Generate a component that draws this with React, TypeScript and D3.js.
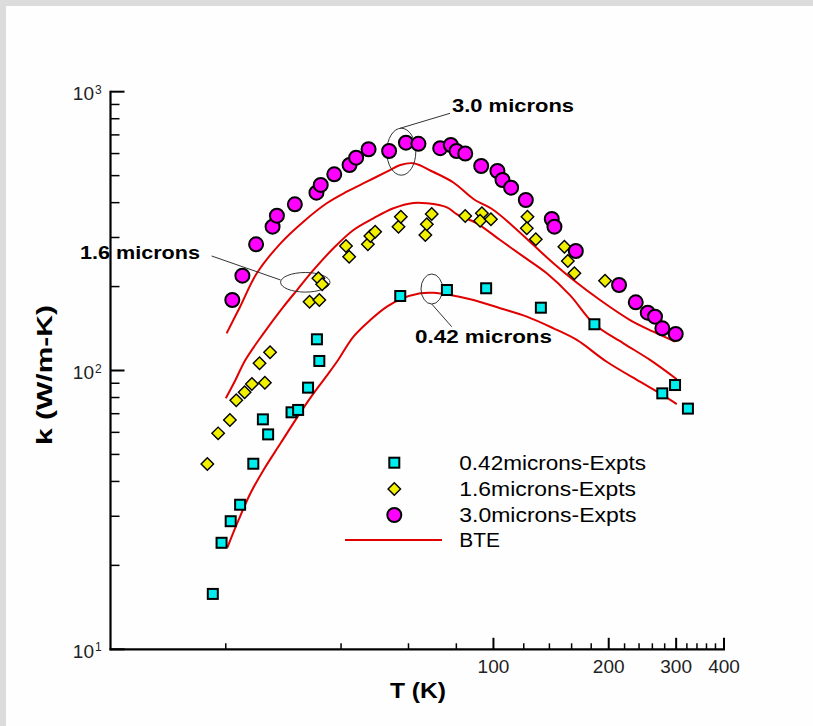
import React from 'react';
import * as d3 from 'd3';

// experimental points, T in K, k in W/m-K
const exp042T = [18.5, 19.5, 20.6, 21.8, 23.6, 25.0, 25.8, 29.7, 30.9, 32.8, 34.6, 35.1, 57.1, 75.6, 95.7, 133, 183.5, 276, 298, 322];
const exp042K = [15.8, 24.1, 28.8, 33.0, 46.3, 66.8, 59.0, 70.8, 72.2, 86.8, 129.4, 108.2, 185, 194.4, 197.2, 168, 146.5, 82.8, 88.7, 73.0];

const exp16T = [17.9, 19.1, 20.5, 21.3, 22.4, 23.4, 25.3, 24.5, 26.1, 33.1, 35.1, 34.9, 35.7, 41.2, 42.0, 47.0, 47.7, 49.1, 56.5, 57.3, 66.4, 67.0, 69.0, 84.4, 93.3, 92.3, 98.5, 122.7, 122.2, 129.0, 153.2, 156.4, 162.7, 195.6];
const exp16K = [46.2, 59.5, 66.5, 78.2, 83.5, 89.5, 90.4, 106.1, 116.2, 176.5, 179.0, 214.1, 203.8, 279.7, 256.0, 283.6, 303.7, 314.7, 328.0, 356.1, 306.2, 334.5, 364.1, 358.2, 366.3, 344.6, 348.5, 356.1, 323.6, 295.5, 278.0, 247.1, 223.2, 209.9];

const exp30T = [20.8, 22.1, 24.0, 26.5, 27.2, 30.3, 34.5, 35.4, 38.4, 42.1, 43.8, 47.2, 53.4, 59.1, 63.7, 72.6, 77.4, 80.1, 84.4, 92.9, 102.4, 105.6, 111.2, 121.5, 142.0, 144.3, 164.1, 212.8, 235.3, 252.9, 264.2, 276.1, 299.2];
const exp30K = [179, 218.8, 283.6, 328, 359.1, 394.6, 434.2, 462.9, 505.5, 545.9, 579.9, 621.6, 612.9, 656.3, 650.3, 627.2, 643.9, 612.9, 600.3, 541.4, 519.5, 482.3, 452.6, 408.9, 349.4, 328.0, 268.3, 202.6, 175.6, 161.2, 156.0, 141.7, 135.2];

// BTE model curves
const bte042T = [20.2, 21.6, 23.2, 25.1, 27.8, 31.0, 33.9, 37.1, 39.3, 43.1, 47.7, 52.7, 57.1, 64.4, 69.7, 77.1, 88.7, 104.1, 122.2, 143.4, 165.1, 197.6, 241.4, 272.3, 301.1];
const bte042K = [23.2, 29.1, 36.3, 44.0, 54.8, 69.2, 82.8, 97.7, 109.1, 132.2, 151.7, 169.4, 180.0, 189.2, 190.1, 186.6, 179.0, 167.2, 156.0, 141.7, 128.7, 107.5, 91.2, 82.8, 75.8];

const bte16T = [20.0, 21.2, 22.5, 25.1, 28.3, 30.7, 33.9, 38.2, 43.1, 48.6, 54.8, 61.8, 67.0, 75.6, 80.3, 90.5, 104.1, 119.8, 137.8, 158.6, 183.5, 218.4, 256.4, 301.1];
const bte16K = [79.5, 92.5, 109.1, 135.9, 169.4, 194.4, 229.4, 274.4, 319.1, 351.5, 381.8, 398.9, 397.9, 384.9, 363.3, 337.3, 293.8, 256.0, 223.2, 186.0, 146.5, 125.2, 109.1, 93.0];

const bte30T = [20.1, 21.8, 24.1, 27.8, 31.9, 36.7, 41.4, 46.7, 52.7, 57.1, 61.8, 69.7, 78.6, 88.7, 100, 112.8, 127.2, 143.4, 161.7, 189.8, 227.4, 261.5, 298.1];
const bte30K = [135.9, 169.4, 223.2, 285.9, 341.8, 397.9, 437.8, 475.6, 516.5, 545.9, 553.6, 515.2, 472.4, 412.2, 376.5, 328.0, 281.8, 242.4, 211.1, 179.0, 151.7, 137.8, 126.9];

// ticks
const xMajor = [100, 200, 300, 400];
const xLabels = ['100', '200', '300', '400'];
const xMinor = [20, 40, 60, 80, 120, 140, 160, 180, 220, 240, 260, 280, 320, 340, 360, 380];
const yMajor = [10, 100, 1000];
const yExp = ['1', '2', '3'];
const yMinor = [10, 100].flatMap((d) => [2, 3, 4, 5, 6, 7, 8, 9].map((m) => m * d));

const legendLabels = ['0.42microns-Expts', '1.6microns-Expts', '3.0microns-Expts', 'BTE'];

const FONT = '"Liberation Sans", Arial, sans-serif';
const RED = '#e00000';

export default function App() {
  const x = d3.scaleLog().domain([10, 400]).range([110.5, 724]);
  const y = d3.scaleLog().domain([10, 1000]).range([649.3, 91.7]);

  const line = d3
    .line<[number, number]>()
    .x((d) => x(d[0]))
    .y((d) => y(d[1]))
    .curve(d3.curveCatmullRom.alpha(0.5));

  const zip = (a: number[], b: number[]) => a.map((v, i) => [v, b[i]] as [number, number]);
  const diamond = d3.symbol(d3.symbolSquare, 78)();

  const square = (cx: number, cy: number, k: string) => (
    <rect key={k} x={cx - 5} y={cy - 5} width={10} height={10} fill="#00eeee" stroke="#000" strokeWidth={2} />
  );
  const dia = (cx: number, cy: number, k: string) => (
    <path key={k} d={diamond} transform={`translate(${cx},${cy}) rotate(45)`} fill="#f0f000" stroke="#000" strokeWidth={1.4} />
  );
  const circ = (cx: number, cy: number, k: string) => (
    <circle key={k} cx={cx} cy={cy} r={7} fill="#ff00ff" stroke="#000" strokeWidth={2} />
  );

  const x0 = x.range()[0];
  const y0 = y.range()[0];

  return (
    <svg width={813} height={726} style={{ position: 'absolute', left: 0, top: 0 }} fontFamily={FONT}>
      <rect width={813} height={726} fill="#dcdcdc" />
      <rect x={6} y={6} width={807} height={720} fill="#fefefe" />

      {/* BTE curves */}
      {[zip(bte042T, bte042K), zip(bte16T, bte16K), zip(bte30T, bte30K)].map((d, i) => (
        <path key={i} d={line(d) || ''} fill="none" stroke={RED} strokeWidth={2} />
      ))}

      {/* annotations */}
      <g fill="none" stroke="#333" strokeWidth={1}>
        <ellipse cx={401.3} cy={151.7} rx={14.5} ry={23.5} />
        <line x1={450} y1={113.3} x2={400} y2={128.3} />
        <ellipse cx={305.3} cy={282.3} rx={24.7} ry={9.8} />
        <line x1={211.7} y1={256} x2={280.6} y2={280} />
        <ellipse cx={431.8} cy={289} rx={10.8} ry={15} />
        <line x1={451.7} y1={326.7} x2={431.7} y2={304} />
      </g>
      <g fontSize={19} fontWeight="bold" fill="#000">
        <text x={452} y={111.7} textLength={122} lengthAdjust="spacingAndGlyphs">3.0 microns</text>
        <text x={80} y={259.3} textLength={120} lengthAdjust="spacingAndGlyphs">1.6 microns</text>
        <text x={415} y={342.7} textLength={137} lengthAdjust="spacingAndGlyphs">0.42 microns</text>
      </g>

      {/* experimental markers */}
      {exp042T.map((t, i) => square(x(t), y(exp042K[i]), 'a' + i))}
      {exp16T.map((t, i) => dia(x(t), y(exp16K[i]), 'b' + i))}
      {exp30T.map((t, i) => circ(x(t), y(exp30K[i]), 'c' + i))}

      {/* axes */}
      <g stroke="#000">
        <line x1={x0} y1={y(1000) - 1} x2={x0} y2={y0 + 1} strokeWidth={2.2} />
        <line x1={x0 - 1} y1={y0} x2={x(400) + 1} y2={y0} strokeWidth={2.2} />
        {xMajor.map((t) => (
          <line key={t} x1={x(t)} x2={x(t)} y1={y0} y2={y0 - 11.5} strokeWidth={2} />
        ))}
        {xMinor.map((t) => (
          <line key={t} x1={x(t)} x2={x(t)} y1={y0} y2={y0 - 6} strokeWidth={1.5} />
        ))}
        {yMajor.map((t) => (
          <line key={t} x1={x0} x2={x0 + 14} y1={y(t)} y2={y(t)} strokeWidth={2} />
        ))}
        {yMinor.map((t) => (
          <line key={t} x1={x0} x2={x0 + 9} y1={y(t)} y2={y(t)} strokeWidth={1.5} />
        ))}
      </g>
      <g fontSize={19} fill="#222">
        {xMajor.map((t, i) => (
          <text key={t} x={x(t)} y={672.7} textAnchor="middle">{xLabels[i]}</text>
        ))}
        {yMajor.map((t, i) => (
          <g key={t}>
            <text x={94} y={y(t) + 8.5} textAnchor="end">10</text>
            <text x={95} y={y(t) + 2} fontSize={12}>{yExp[i]}</text>
          </g>
        ))}
      </g>
      <text x={418} y={698} textAnchor="middle" fontSize={22} fontWeight="bold" textLength={56} lengthAdjust="spacingAndGlyphs">T (K)</text>
      <text transform="translate(52,375) rotate(-90)" textAnchor="middle" fontSize={22} fontWeight="bold" textLength={140} lengthAdjust="spacingAndGlyphs">k (W/m-K)</text>

      {/* legend */}
      {square(394.3, 462.7, 'l1')}
      {dia(394.3, 489, 'l2')}
      {circ(394.3, 515, 'l3')}
      <line x1={345} x2={442} y1={540} y2={540} stroke={RED} strokeWidth={2.2} />
      <g fontSize={20} fill="#000">
        <text x={459.3} y={470} textLength={186.7} lengthAdjust="spacingAndGlyphs">{legendLabels[0]}</text>
        <text x={459.3} y={496} textLength={176.7} lengthAdjust="spacingAndGlyphs">{legendLabels[1]}</text>
        <text x={459.3} y={521.7} textLength={177.3} lengthAdjust="spacingAndGlyphs">{legendLabels[2]}</text>
        <text x={459.3} y={547} textLength={40.7} lengthAdjust="spacingAndGlyphs">{legendLabels[3]}</text>
      </g>
    </svg>
  );
}
